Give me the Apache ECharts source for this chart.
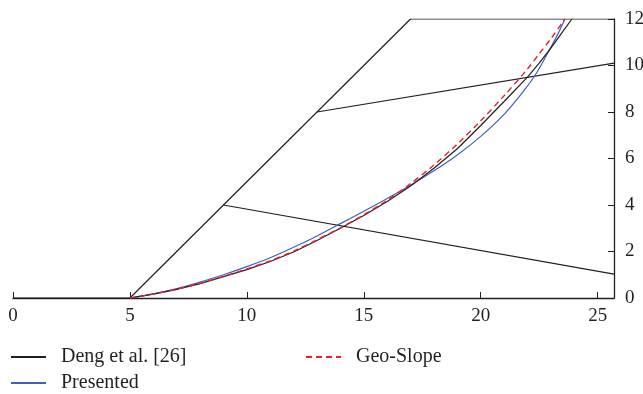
<!DOCTYPE html>
<html>
<head>
<meta charset="utf-8">
<script src="https://cdn.jsdelivr.net/npm/echarts@6/dist/echarts.min.js"></script>
<style>html,body{margin:0;padding:0;background:#fff;}#c{width:643px;height:394px;}</style>
</head>
<body>
<div id="c"></div>
<script>
// Geometry of slope (x, y)
const slopeProfile = [[0,0],[5,0],[17,12],[25.7,12]];
const lowerLine = [[9,4],[25.7,1.03]];
const upperLine = [[13,8],[25.7,10.1]];
// Slip surfaces
const dengCurve = [[5,0],[6,0.17],[7,0.37],[8,0.62],[9,0.92],[10,1.22],[11,1.57],[12,1.98],[13,2.47],[14,3.0],[15,3.55],[16,4.15],[17,4.82],[18,5.58],[19,6.42],[20,7.42],[21,8.45],[22,9.5],[22.5,10.1],[23,10.75],[23.5,11.45],[23.9,12]];
const presentedCurve = [[5,0],[6,0.18],[7,0.4],[8,0.68],[9,1.0],[10,1.35],[11,1.73],[12,2.18],[13,2.67],[14,3.2],[15,3.73],[16,4.28],[17,4.85],[18,5.47],[19,6.15],[20,6.95],[21,7.9],[21.8,8.85],[22.4,9.7],[22.9,10.6],[23.3,11.35],[23.6,12]];
const geoSlopeCurve = [[5,0],[6,0.17],[7,0.38],[8,0.63],[9,0.93],[10,1.25],[11,1.6],[12,2.02],[13,2.5],[14,3.02],[15,3.58],[16,4.2],[17,4.92],[18,5.72],[19,6.62],[20,7.62],[21,8.7],[22,9.85],[22.5,10.5],[23,11.15],[23.5,11.85],[23.6,12]];
const xTicks = [0,5,10,15,20,25];
const yTicks = [0,2,4,6,8,10,12];

const FONT = 'Liberation Serif';
const INK = '#231f20';
const chart = echarts.init(document.getElementById('c'));
const lineS = (name, data, color, width, type, smooth) => ({
  name, type: 'line', data, symbol: 'none', showSymbol: false, smooth: smooth || false, silent: true,
  lineStyle: {color, width, type: type || 'solid'}, itemStyle: {color}, z: 3
});
const legendItem = (name, left, top) => ({
  data: [name], left, top, padding: 0, itemWidth: 35, itemHeight: 12,
  itemStyle: {opacity: 0},
  textStyle: {fontFamily: FONT, fontSize: 20, color: INK, padding: [0,0,0,10]}
});
chart.setOption({
  animation: false,
  backgroundColor: '#fff',
  grid: {left: 13, right: 29, top: 19, bottom: 96, containLabel: false, outerBoundsMode: 'none'},
  legend: [legendItem('Deng et al. [26]', 10, 347), legendItem('Geo-Slope', 305, 347), legendItem('Presented', 10, 373)],
  xAxis: {
    type: 'value', min: 0, max: 25.7, interval: 5,
    axisLine: {show: true, onZero: false, lineStyle: {color: INK, width: 1.3}},
    axisTick: {show: true, inside: true, length: 6, lineStyle: {color: INK, width: 1}},
    axisLabel: {fontFamily: FONT, fontSize: 19, color: INK, margin: 9,
      formatter: v => xTicks.includes(v) ? String(v) : ''},
    splitLine: {show: false}
  },
  yAxis: {
    type: 'value', position: 'right', min: 0, max: 12, interval: 2,
    axisLine: {show: true, onZero: false, lineStyle: {color: INK, width: 1.3}},
    axisTick: {show: true, inside: true, length: 6, lineStyle: {color: INK, width: 1}},
    axisLabel: {fontFamily: FONT, fontSize: 19, color: INK, margin: 11,
      formatter: v => yTicks.includes(v) ? String(v) : ''},
    splitLine: {show: false}
  },
  series: [
    lineS('slope', slopeProfile, INK, 1.2),
    lineS('line1', lowerLine, INK, 1.2),
    lineS('line2', upperLine, INK, 1.2),
    lineS('Presented', presentedCurve, '#3f5fc0', 1.2, 'solid', 0.3),
    lineS('Deng et al. [26]', dengCurve, INK, 1.2),
    lineS('Geo-Slope', geoSlopeCurve, '#e8202a', 1.4, [6,4], 0.3)
  ]
});
</script>
</body>
</html>
